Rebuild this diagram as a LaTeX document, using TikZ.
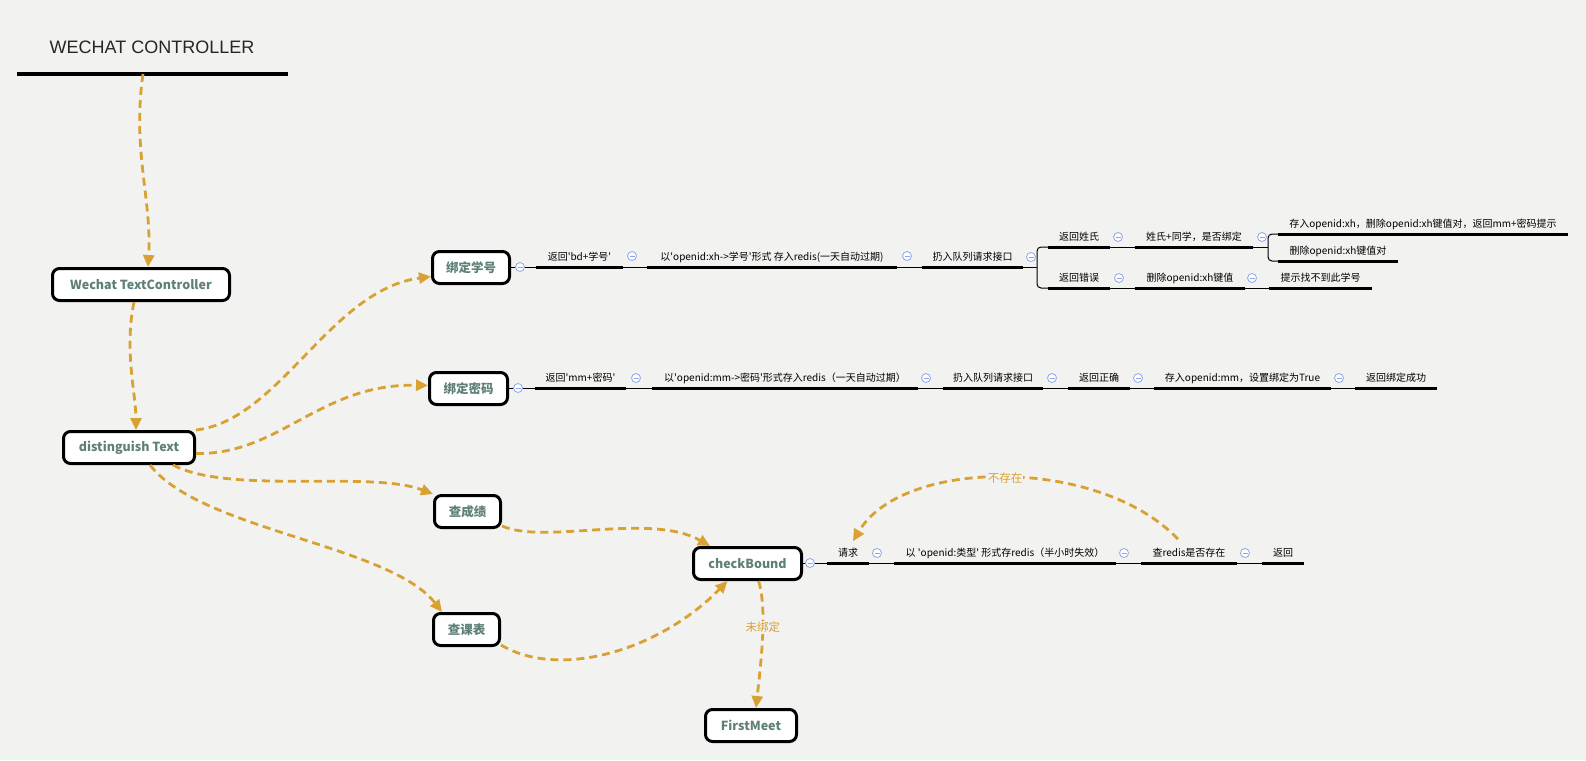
\documentclass[tikz,border=0pt]{standalone}
\usepackage{fontspec}
\setmainfont{Noto Sans CJK SC}
\newfontfamily\titlefont{Liberation Sans}
\usetikzlibrary{arrows.meta}

\definecolor{bgpaper}{HTML}{F2F3F1}
\definecolor{boxtext}{HTML}{5E8078}
\definecolor{flowamber}{HTML}{D9A032}
\definecolor{foldblue}{HTML}{8DA6E8}

\newcommand\sq{\textquotesingle}

\tikzset{
  box/.style={draw, line width=3pt, rounded corners=7pt, fill=white,
    minimum height=32pt, inner sep=0pt, text=boxtext,
    font=\fontsize{12.5}{14}\selectfont\bfseries},
  topic/.style={anchor=south, inner xsep=0pt, inner ysep=4.2pt,
    text height=8pt, text depth=2pt, font=\fontsize{10}{12}\selectfont},
  underline/.style={line width=3pt},
  twig/.style={line width=1pt},
  fold/.style={circle, draw=foldblue, fill=white, line width=0.8pt,
    minimum size=9pt, inner sep=0pt,
    path picture={\draw[foldblue, line width=0.8pt]
      ([xshift=-2.5pt]path picture bounding box.center) --
      ([xshift=2.5pt]path picture bounding box.center);}},
  flow/.style={draw=flowamber, line width=2.8pt, dash pattern=on 8pt off 5pt,
    -{Triangle[length=12pt,width=11pt]}},
  flowtag/.style={text=flowamber, fill=bgpaper, inner sep=1pt,
    font=\fontsize{11.5}{13}\selectfont},
}

\begin{document}
\begin{tikzpicture}[x=1pt,y=-1pt]
  \fill[bgpaper] (0,0) rectangle (1586,760);
  \useasboundingbox (0,0) rectangle (1586,760);

  % title
  \node[font=\titlefont\fontsize{18}{20}\selectfont, text=black!85] (title) at (152,47) {WECHAT CONTROLLER};
  \draw[line width=3.5pt] (17,74) -- (288,74);
  \coordinate (barhook) at (143,74);

  % boxes
  \node[box, minimum width=177pt] (tc) at (141,284.5) {Wechat TextController};
  \node[box, minimum width=131pt] (dt) at (129,447.5) {distinguish Text};
  \node[box, minimum width=77pt] (bx) at (471,267.5) {绑定学号};
  \node[box, minimum width=78pt] (bm) at (468.5,388.5) {绑定密码};
  \node[box, minimum width=66pt] (cj) at (467.5,511.5) {查成绩};
  \node[box, minimum width=66pt] (kb) at (466.5,629.5) {查课表};
  \node[box, minimum width=108pt] (cb) at (747.5,563.5) {checkBound};
  \node[box, minimum width=91pt] (fm) at (751,725.5) {FirstMeet};

  % branch of 绑定学号
  \node[topic, minimum width=87pt] (b1) at (579.5,267) {返回\sq bd+学号\sq};
  \node[topic, minimum width=250pt] (b2) at (772,267) {以\sq openid:xh->学号\sq 形式 存入redis(一天自动过期)};
  \node[topic, minimum width=101pt] (b3) at (972.5,267) {扔入队列请求接口};
  \node[topic, minimum width=62pt] (b4) at (1079,247) {返回姓氏};
  \node[topic, minimum width=62pt] (b5) at (1079,288) {返回错误};
  \node[topic, minimum width=118pt] (b6) at (1194,247) {姓氏+同学，是否绑定};
  \node[topic, minimum width=290pt] (b7) at (1423,234) {存入openid:xh，删除openid:xh键值对，返回mm+密码提示};
  \node[topic, minimum width=120pt] (b8) at (1338,261) {删除openid:xh键值对};
  \node[topic, minimum width=110pt] (b9) at (1190,288) {删除openid:xh键值};
  \node[topic, minimum width=103pt] (b10) at (1320.5,288) {提示找不到此学号};

  % branch of 绑定密码
  \node[topic, minimum width=91pt] (c1) at (580.5,388) {返回\sq mm+密码\sq};
  \node[topic, minimum width=266pt] (c2) at (785,388) {以\sq openid:mm->密码\sq 形式存入redis（一天自动过期）};
  \node[topic, minimum width=100pt] (c3) at (993,388) {扔入队列请求接口};
  \node[topic, minimum width=62pt] (c4) at (1099,388) {返回正确};
  \node[topic, minimum width=177pt] (c5) at (1242.5,388) {存入openid:mm，设置绑定为True};
  \node[topic, minimum width=82pt] (c6) at (1396,388) {返回绑定成功};

  % branch of checkBound
  \node[topic, minimum width=42pt] (d1) at (848,563) {请求};
  \node[topic, minimum width=222pt] (d2) at (1005,563) {以 \sq openid:类型\sq{} 形式存redis（半小时失效）};
  \node[topic, minimum width=96pt] (d3) at (1189,563) {查redis是否存在};
  \node[topic, minimum width=42pt] (d4) at (1283,563) {返回};

  % thin joins
  \draw[twig] (bx.east |- b1.south west) -- (b1.south west);
  \draw[twig] (bm.east |- c1.south west) -- (c1.south west);
  \draw[twig] (cb.east |- d1.south west) -- (d1.south west);
  \foreach \a/\b in {b1/b2,b2/b3,b4/b6,b5/b9,b9/b10,c1/c2,c2/c3,c3/c4,c4/c5,c5/c6,d1/d2,d2/d3,d3/d4}
    \draw[twig] (\a.south east) -- (\b.south west);
  \coordinate (split1) at (1037,267);
  \draw[twig] (b3.south east) -- (split1);
  \draw[twig, rounded corners=4pt] (b4.south west) -- (split1 |- b4.south west)
    -- (split1 |- b5.south west) -- (b5.south west);
  \coordinate (split2) at (1268,247);
  \draw[twig] (b6.south east) -- (split2);
  \draw[twig, rounded corners=4pt] (b7.south west) -- (split2 |- b7.south west)
    -- (split2 |- b8.south west) -- (b8.south west);

  % underlines
  \foreach \n in {b1,b2,b3,b4,b5,b6,b7,b8,b9,b10,c1,c2,c3,c4,c5,c6,d1,d2,d3,d4}
    \draw[underline] (\n.south west) -- (\n.south east);

  % fold marks
  \foreach \p [count=\i] in {{520,267},{632,256},{907,256},{1031,257},{1118,237},{1262,237},{1119,278},{1252,278},
      {518,388},{636,378},{926,378},{1052,378},{1138,378},{1339,378},
      {810,563},{877,553},{1124,553},{1245,553}}
    \node[fold] (fold\i) at (\p) {};

  % flows
  \draw[flow] (barhook) .. controls (132,150) and (152,200) .. ([xshift=7pt]tc.north);
  \draw[flow] ([xshift=-7pt]tc.south) .. controls (124,350) and (136,395) .. ([xshift=7pt]dt.north);
  \draw[flow] (dt.north east) .. controls (280,420) and (330,290) .. ([yshift=-9pt]bx.west);
  \draw[flow] ([yshift=-6pt]dt.east) .. controls (280,455) and (320,383) .. ([yshift=3pt]bm.west);
  \draw[flow] ([xshift=44pt]dt.south) .. controls (230,495) and (370,470) .. (cj.north west);
  \draw[flow] ([xshift=21pt]dt.south) .. controls (200,530) and (390,545) .. ([xshift=10pt]kb.north west);
  \draw[flow] ([yshift=3pt]cj.south east) .. controls (545,545) and (650,512) .. ([xshift=18pt]cb.north west);
  \draw[flow] ([yshift=2pt]kb.south east) .. controls (560,680) and (660,650) .. ([xshift=-20pt]cb.south);
  \draw[flow] ([xshift=11pt]cb.south) .. controls (768,610) and (760,670) .. ([xshift=5pt]fm.north)
    node[flowtag, pos=0.4] (tagunbound) {未绑定};
  \draw[flow] ([xshift=-11pt,yshift=5pt]d3.north) .. controls (1100,457) and (903,457) .. ([xshift=5pt,yshift=3pt]d1.north)
    node[flowtag, pos=0.5] (tagmissing) {不存在};
\end{tikzpicture}
\end{document}
